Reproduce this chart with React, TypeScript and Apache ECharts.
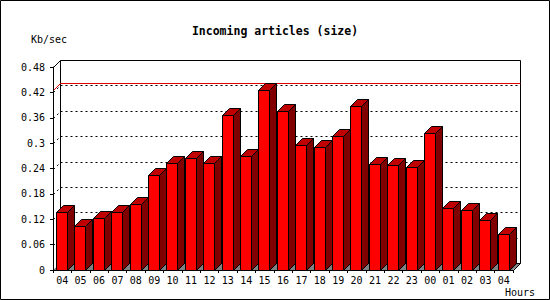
import React, { useEffect, useRef } from "react";
import * as echarts from "echarts";

const hours = ["04","05","06","07","08","09","10","11","12","13","14","15","16","17","18","19","20","21","22","23","00","01","02","03","04"];
const kbPerSec = [0.136,0.104,0.122,0.136,0.155,0.224,0.252,0.264,0.252,0.366,0.269,0.425,0.376,0.295,0.290,0.316,0.387,0.250,0.2475,0.243,0.323,0.146,0.141,0.1175,0.0844];
const gridValues = [0.06,0.12,0.18,0.24,0.3,0.36,0.42];
const yMin = 0;
const yMax = 0.48;
const yStep = 0.06;

const D = 7; // depth offset (px)
const FRONT_OFF = 3;
const FRONT_W = 11;
const MONO = "DejaVu Sans Mono";

export default function App() {
  const ref = useRef<HTMLDivElement>(null);
  useEffect(() => {
    const chart = echarts.init(ref.current!, null, { renderer: "svg" });
    const n = hours.length;
    const maxVal = Math.max(...kbPerSec);
    const s = (v: number) => Math.round(v) + 0.5;
    const edges = (api: any) => {
      const bw = api.size([1, 0])[0];
      const left = api.coord([0, 0])[0] - bw / 2;
      const right = api.coord([n - 1, 0])[0] + bw / 2;
      return { bw, left, right };
    };

    const wallSeries = {
      type: "custom",
      z: 1,
      clip: false,
      silent: true,
      data: [[0, yMax]],
      renderItem: (_p: any, api: any) => {
        const { left, right } = edges(api);
        const y0 = api.coord([0, yMin])[1];
        const yT = api.coord([0, api.value(1)])[1];
        const L = s(left), R = s(right), B = s(y0), T = s(yT);
        const Bi = Math.round(y0);
        return {
          type: "group",
          children: [
            {
              type: "polygon",
              shape: { points: [[Math.round(left), Bi], [Math.round(right), Bi], [Math.round(right) + D, Bi - D + 1], [Math.round(left) + D, Bi - D + 1]] },
              style: { fill: "#808080" },
            },
            { type: "rect", shape: { x: L + D, y: T - D, width: R - L, height: B - T }, style: { fill: "none", stroke: "#000", lineWidth: 1 } },
            { type: "line", shape: { x1: L, y1: T, x2: L + D, y2: T - D }, style: { stroke: "#000", lineWidth: 1 } },
            { type: "line", shape: { x1: R, y1: B, x2: R + D, y2: B - D }, style: { stroke: "#000", lineWidth: 1 } },
          ],
        };
      },
    };

    const gridSeries = {
      type: "custom",
      z: 2,
      clip: false,
      silent: true,
      data: gridValues.map((v) => [0, v]),
      renderItem: (_p: any, api: any) => {
        const { left, right } = edges(api);
        const y = s(api.coord([0, api.value(1)])[1]);
        const L = s(left), R = s(right);
        return {
          type: "group",
          children: [
            { type: "line", shape: { x1: L + D, y1: y - D, x2: R + D, y2: y - D }, style: { stroke: "#000", lineWidth: 1, lineDash: [2, 3] } },
            { type: "line", shape: { x1: L, y1: y, x2: L + D, y2: y - D }, style: { stroke: "#000", lineWidth: 1, lineDash: [2, 3] } },
          ],
        };
      },
    };

    const maxSeries = {
      type: "custom",
      z: 2,
      clip: false,
      silent: true,
      data: [[0, maxVal]],
      renderItem: (_p: any, api: any) => {
        const { left, right } = edges(api);
        const y = s(api.coord([0, api.value(1)])[1]);
        const L = s(left), R = s(right);
        return {
          type: "group",
          children: [
            { type: "line", shape: { x1: L + D, y1: y - D, x2: R + D, y2: y - D }, style: { stroke: "#e00000", lineWidth: 1 } },
            { type: "line", shape: { x1: L, y1: y, x2: L + D, y2: y - D }, style: { stroke: "#e00000", lineWidth: 1 } },
          ],
        };
      },
    };

    const barSeries = {
      type: "custom",
      z: 3,
      clip: false,
      data: kbPerSec.map((v, i) => [i, v]),
      encode: { x: 0, y: 1 },
      renderItem: (_p: any, api: any) => {
        const i = api.value(0);
        const v = api.value(1);
        const top = api.coord([i, v]);
        const base = api.coord([i, 0]);
        const bw = api.size([1, 0])[0];
        const x0 = s(top[0] - bw / 2 + FRONT_OFF);
        const x1 = x0 + FRONT_W;
        const yt = s(top[1]);
        const yb = s(base[1]);
        return {
          type: "group",
          children: [
            {
              type: "polygon",
              shape: { points: [[x1, yb], [x1, yt], [x1 + D, yt - D], [x1 + D, yb - D]] },
              style: { fill: "#800000", stroke: "#000", lineWidth: 1 },
            },
            {
              type: "polygon",
              shape: { points: [[x0, yt], [x1, yt], [x1 + D, yt - D], [x0 + D, yt - D]] },
              style: { fill: "#c00000", stroke: "#000", lineWidth: 1 },
            },
            {
              type: "rect",
              shape: { x: x0, y: yt, width: FRONT_W, height: yb - yt },
              style: { fill: "#ff0000", stroke: "#000", lineWidth: 1 },
            },
          ],
        };
      },
    };

    chart.setOption({
      animation: false,
      backgroundColor: "#ffffff",
      title: {
        text: "Incoming articles (size)",
        left: "center",
        top: 20,
        textStyle: { fontFamily: MONO, fontWeight: "bold", fontSize: 11.5, color: "#000" },
      },
      grid: { left: 53, top: 67, width: 460, height: 203 },
      xAxis: {
        type: "category",
        data: hours,
        boundaryGap: true,
        z: 5,
        axisLine: { show: true, lineStyle: { color: "#000", width: 1 } },
        axisTick: { show: true, length: 3, interval: 0, alignWithLabel: false, lineStyle: { color: "#000" } },
        axisLabel: { interval: 0, margin: 5, color: "#000", fontFamily: MONO, fontSize: 10 },
        splitLine: { show: false },
      },
      yAxis: {
        type: "value",
        min: yMin,
        max: yMax,
        interval: yStep,
        z: 5,
        axisLine: { show: true, lineStyle: { color: "#000", width: 1 } },
        axisTick: { show: true, length: 3, lineStyle: { color: "#000" } },
        axisLabel: { margin: 8, color: "#000", fontFamily: MONO, fontSize: 10 },
        splitLine: { show: false },
      },
      graphic: [
        { type: "rect", shape: { x: 0.5, y: 0.5, width: 549, height: 299 }, style: { fill: "none", stroke: "#000", lineWidth: 1 }, z: 10 },
        { type: "text", x: 31, y: 34, style: { text: "Kb/sec", font: `10px '${MONO}'`, fill: "#000" } },
        { type: "text", x: 505, y: 287, style: { text: "Hours", font: `10px '${MONO}'`, fill: "#000" } },
      ],
      series: [wallSeries, gridSeries, maxSeries, barSeries],
    });
    return () => chart.dispose();
  }, []);
  return <div ref={ref} style={{ position: "fixed", left: 0, top: 0, width: 550, height: 300 }} />;
}
